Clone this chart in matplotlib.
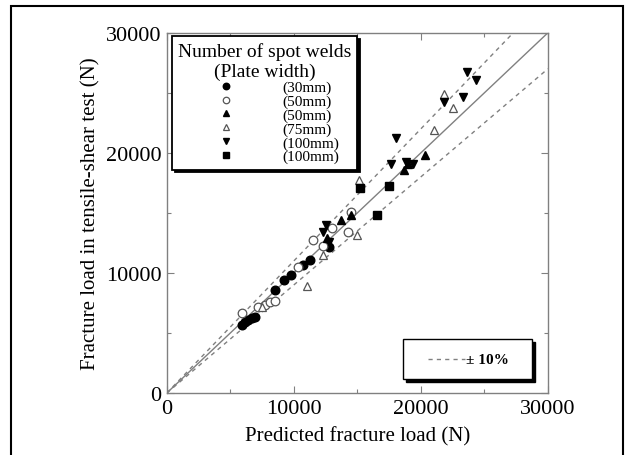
import matplotlib.pyplot as plt
from matplotlib.patches import Rectangle
from matplotlib.lines import Line2D
import numpy as np

plt.rcParams['font.family'] = ['Liberation Serif', 'DejaVu Serif']

# predicted (x) vs measured (y) fracture loads, N
circ30_x = [5950, 6170, 6420, 6740, 6960, 8500, 9250, 9800, 10700, 11300, 12750]
circ30_y = [5700, 5920, 6110, 6250, 6300, 8600, 9450, 9850, 10650, 11050, 12150]
circ50_x = [5950, 7200, 7700, 8150, 8550, 10300, 11500, 12300, 13000, 14250, 14500]
circ50_y = [6700, 7150, 7350, 7550, 7700, 10500, 12700, 12200, 13700, 13400, 15100]
tri50_x = [12600, 13700, 14500, 18700, 19000, 20350]
tri50_y = [12900, 14400, 14850, 18600, 19100, 19800]
tri75_x = [7500, 11000, 12300, 14950, 15100, 21050, 21850, 22500]
tri75_y = [7150, 8950, 11450, 13150, 17700, 21900, 24900, 23700]
inv100_x = [12300, 12550, 12750, 17650, 18050, 18800, 19400, 21800, 23300, 23600, 24300]
inv100_y = [13400, 13950, 12600, 19100, 21200, 19250, 19050, 24250, 24650, 26750, 26050]
sq100_x = [15200, 16550, 17500]
sq100_y = [17050, 14800, 17200]

legend_labels = ['(30mm)', '(50mm)', '(50mm)', '(75mm)', '(100mm)', '(100mm)']
ticks = [0, 10000, 20000, 30000]
line_x = np.array([0, 30000])

fig = plt.figure(figsize=(6.32, 4.56), dpi=100)
ax = fig.add_axes([0.264, 0.136, 0.603, 0.790])

gray = '#808080'
ax.plot(line_x, line_x, color=gray, lw=1.0, zorder=1)
ax.plot(line_x, 1.1 * line_x, color=gray, lw=1.0, ls=(0, (3, 3)), zorder=1)
ax.plot(line_x, 0.9 * line_x, color=gray, lw=1.0, ls=(0, (3, 3)), zorder=1)

ms = 6.2
kw = dict(ls='none', markersize=ms, zorder=3)
h1, = ax.plot(circ30_x, circ30_y, marker='o', color='black', **kw)
h2, = ax.plot(circ50_x, circ50_y, marker='o', mfc='white', mec='#555555', mew=0.9, **kw)
h3, = ax.plot(tri50_x, tri50_y, marker='^', color='black', **kw)
h4, = ax.plot(tri75_x, tri75_y, marker='^', mfc='white', mec='#555555', mew=0.9, **kw)
h5, = ax.plot(inv100_x, inv100_y, marker='v', color='black', **kw)
h6, = ax.plot(sq100_x, sq100_y, marker='s', color='black', markersize=5.8, ls='none', zorder=3)

ax.set_xlim(0, 30000)
ax.set_ylim(0, 30000)
ax.set_xticks(ticks)
ax.set_yticks(ticks)
ax.set_xticks([5000, 15000, 25000], minor=True)
ax.set_yticks([5000, 15000, 25000], minor=True)
ax.tick_params(which='both', direction='in', top=True, right=True, colors=gray,
               labelcolor='black', labelsize=16)
ax.tick_params(which='major', length=5, width=0.8, pad=4)
ax.tick_params(which='minor', length=3, width=0.8)
for s in ax.spines.values():
    s.set_color(gray)
    s.set_linewidth(1.0)

ax.set_xlabel('Predicted fracture load (N)', fontsize=15, labelpad=6)
ax.set_ylabel('Fracture load in tensile-shear test (N)', fontsize=15, labelpad=4)

leg = ax.legend([h1, h2, h3, h4, h5, h6], legend_labels,
                title='Number of spot welds\n(Plate width)',
                loc='upper left', bbox_to_anchor=(0.013, 0.99), borderaxespad=0,
                fontsize=11, title_fontsize=14, handlelength=4.8, markerscale=0.75,
                handletextpad=1.3, labelspacing=0.0, borderpad=0.4,
                fancybox=False, edgecolor='black', framealpha=1,
                shadow={'color': 'black', 'alpha': 1})
leg.get_frame().set_linewidth(1.3)
leg.get_title().set_multialignment('center')

# +-10% key box
ax.add_patch(Rectangle((0.627, 0.031), 0.339, 0.111, transform=ax.transAxes,
                       facecolor='black', edgecolor='black', zorder=4))
ax.add_patch(Rectangle((0.619, 0.039), 0.339, 0.111, transform=ax.transAxes,
                       facecolor='white', edgecolor='black', lw=1.0, zorder=5))
ax.add_line(Line2D([0.685, 0.782], [0.094, 0.094], transform=ax.transAxes,
                   color=gray, lw=1.0, ls=(0, (3, 3)), zorder=6))
ax.text(0.784, 0.094, '\u00b1 10%', transform=ax.transAxes, fontsize=11,
        fontweight='bold', va='center', ha='left', zorder=6)

# outer frame of the figure
fig.add_artist(Rectangle((11 / 632, -0.02), 612 / 632, 1 - 7 / 456 + 0.02,
                         transform=fig.transFigure, fill=False,
                         edgecolor='black', lw=1.5))

fig.savefig('out.png', dpi=100)
